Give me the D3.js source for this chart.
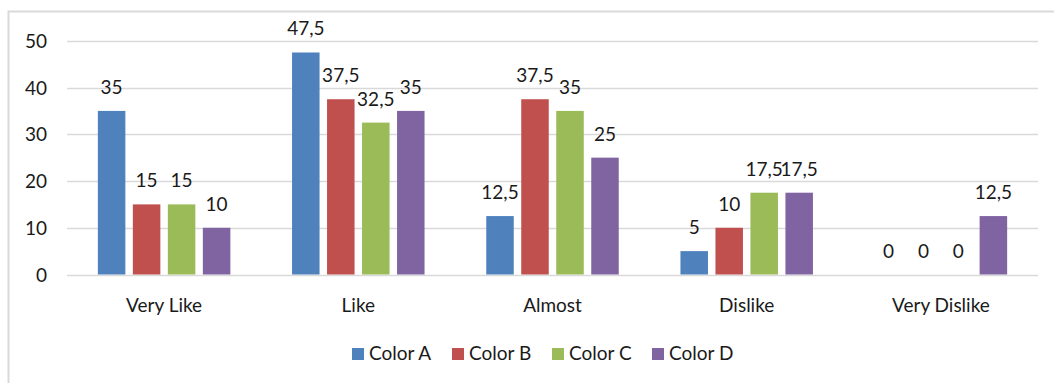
<!DOCTYPE html>
<html>
<head>
<meta charset="utf-8">
<script src="https://cdn.jsdelivr.net/npm/d3@7"></script>
<style>
  html, body { margin: 0; padding: 0; background: #fff; }
  svg { display: block; }
  text { font-family: Lato, "Open Sans", sans-serif; fill: #1a1a1a; }
</style>
</head>
<body>
<svg id="chart" width="1054" height="383"></svg>
<script>
// Survey results by preference level
const categories = ["Very Like", "Like", "Almost", "Dislike", "Very Dislike"];
const seriesNames = ["Color A", "Color B", "Color C", "Color D"];
const colorA = [35, 47.5, 12.5, 5, 0];
const colorB = [15, 37.5, 37.5, 10, 0];
const colorC = [15, 32.5, 35, 17.5, 0];
const colorD = [10, 35, 25, 17.5, 12.5];
const yTicks = [0, 10, 20, 30, 40, 50];
const seriesColors = ["#4f81bd", "#c0504d", "#9bbb59", "#8064a2"];

const seriesValues = [colorA, colorB, colorC, colorD];
const FONT = 19;

const svg = d3.select("#chart");
const W = 1054, H = 383;

// chart area frame (extends past the right and bottom edges)
svg.append("rect")
  .attr("x", 8.5).attr("y", 11.5)
  .attr("width", W + 10).attr("height", H + 10)
  .attr("fill", "none")
  .attr("stroke", "#d9d9d9")
  .attr("stroke-width", 2);

const plot = { left: 67, right: 1038, top: 40.8, bottom: 274.5 };

const y = d3.scaleLinear().domain([0, 50]).range([plot.bottom, plot.top]);
const x0 = d3.scaleBand().domain(categories).range([plot.left, plot.right]).padding(0);
const groupWidth = 132.5;
const x1 = d3.scaleBand().domain(seriesNames)
  .range([0, groupWidth]).paddingInner(0.214).paddingOuter(0);
const groupOffset = (x0.bandwidth() - groupWidth) / 2;

// horizontal gridlines
svg.append("g")
  .selectAll("line")
  .data(yTicks)
  .join("line")
  .attr("x1", plot.left).attr("x2", plot.right)
  .attr("y1", d => Math.round(y(d)) + 0.5)
  .attr("y2", d => Math.round(y(d)) + 0.5)
  .attr("stroke", "#d9d9d9")
  .attr("stroke-width", 1.3);

// y axis labels
const yAxis = d3.axisLeft(y).tickValues(yTicks).tickSize(0).tickPadding(0);
const gy = svg.append("g").attr("transform", `translate(47,0)`).call(yAxis);
gy.select(".domain").remove();
gy.selectAll("text")
  .attr("font-size", FONT)
  .attr("font-family", "Lato, 'Open Sans', sans-serif")
  .attr("fill", "#1a1a1a")
  .attr("dy", "0.35em");

// x axis labels
const xAxis = d3.axisBottom(x0).tickSize(0).tickPadding(0);
const gx = svg.append("g").attr("transform", `translate(0,${plot.bottom})`).call(xAxis);
gx.select(".domain").remove();
gx.selectAll("text")
  .attr("font-size", FONT)
  .attr("font-family", "Lato, 'Open Sans', sans-serif")
  .attr("fill", "#1a1a1a")
  .attr("dy", 0)
  .attr("y", 37);

const fmt = v => String(v).replace(".", ",");

// bars and value labels
const groups = svg.append("g")
  .selectAll("g")
  .data(categories)
  .join("g")
  .attr("transform", d => `translate(${x0(d) + groupOffset},0)`);

groups.each(function(cat, ci) {
  const g = d3.select(this);
  const rows = seriesNames.map((s, si) => ({ s, si, v: seriesValues[si][ci] }));
  g.selectAll("rect")
    .data(rows)
    .join("rect")
    .attr("x", d => x1(d.s))
    .attr("y", d => y(d.v))
    .attr("width", x1.bandwidth())
    .attr("height", d => y(0) - y(d.v))
    .attr("fill", d => seriesColors[d.si]);
  g.selectAll("text")
    .data(rows)
    .join("text")
    .attr("x", d => x1(d.s) + x1.bandwidth() / 2)
    .attr("y", d => y(d.v) - 17)
    .attr("text-anchor", "middle")
    .attr("font-size", FONT)
    .text(d => fmt(d.v));
});

// legend
const legend = svg.append("g").attr("transform", "translate(352,348)");
const li = legend.selectAll("g")
  .data(seriesNames)
  .join("g")
  .attr("transform", (d, i) => `translate(${i * 100},0)`);
li.append("rect")
  .attr("width", 12).attr("height", 12)
  .attr("fill", (d, i) => seriesColors[i]);
li.append("text")
  .attr("x", 17).attr("y", 12)
  .attr("font-size", FONT)
  .text(d => d);
</script>
</body>
</html>
